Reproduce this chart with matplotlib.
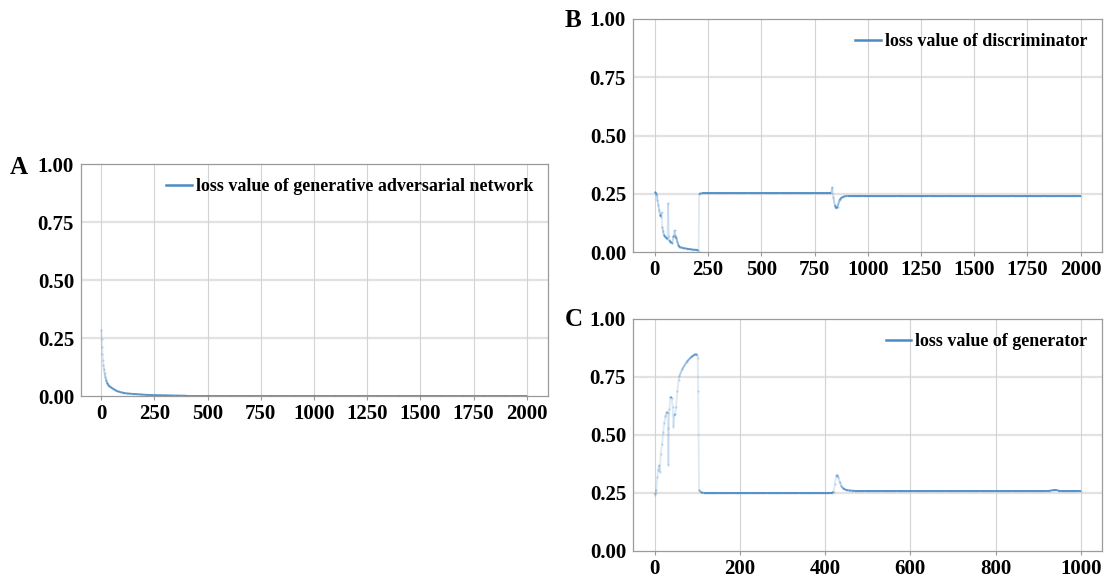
import numpy as np
import matplotlib
matplotlib.use("Agg")
import matplotlib.pyplot as plt
from matplotlib.collections import LineCollection
from matplotlib.lines import Line2D

plt.rcParams["font.family"] = ["Liberation Serif", "DejaVu Serif"]
plt.rcParams["font.weight"] = "bold"

# ---- Panel A: total GAN loss ----
epochs_a = [0, 2, 4, 6, 8, 10, 13, 16, 20, 23, 27, 32, 38, 45, 55, 65, 75, 90,
            102, 120, 148, 180, 210, 245, 300, 350, 400] + list(range(500, 2001, 100))
loss_a = [0.283, 0.245, 0.21, 0.18, 0.154, 0.135, 0.115, 0.098, 0.08, 0.068,
          0.058, 0.049, 0.042, 0.037, 0.032, 0.026, 0.021, 0.017, 0.014, 0.011,
          0.009, 0.007, 0.005, 0.004, 0.003, 0.002, 0.001] + [0.001] * 16

# ---- Panel B: discriminator loss ----
epochs_b_early = [0, 4, 8, 12, 16, 20, 24, 28, 31, 34, 38, 42, 48, 55, 59, 62, 65,
                  67, 72, 78, 82, 86, 89, 92, 95, 97, 100, 105, 110, 114, 120, 133,
                  150, 164, 180, 198, 205, 208]
loss_b_early = [0.259, 0.252, 0.245, 0.225, 0.202, 0.18, 0.159, 0.152, 0.17, 0.109,
                0.09, 0.073, 0.065, 0.06, 0.055, 0.21, 0.07, 0.05, 0.045, 0.038,
                0.04, 0.064, 0.07, 0.095, 0.073, 0.065, 0.06, 0.045, 0.03, 0.023,
                0.02, 0.017, 0.014, 0.012, 0.01, 0.009, 0.005, 0.25]
epochs_b_plateau1 = list(range(220, 830, 10))
loss_b_plateau1 = [0.252] * len(epochs_b_plateau1)
epochs_b_dip = [828, 833, 838, 845, 852, 858, 867, 875, 883, 895, 906]
loss_b_dip = [0.252, 0.278, 0.235, 0.2, 0.187, 0.195, 0.223, 0.232, 0.237, 0.240, 0.241]
epochs_b_plateau2 = list(range(920, 2001, 10))
loss_b_plateau2 = [0.241] * len(epochs_b_plateau2)

epochs_b = epochs_b_early + epochs_b_plateau1 + epochs_b_dip + epochs_b_plateau2
loss_b = loss_b_early + loss_b_plateau1 + loss_b_dip + loss_b_plateau2

# ---- Panel C: generator loss ----
epochs_c_early = [0, 2, 4, 6, 8, 10, 12, 14, 17, 20, 22, 25, 28, 30, 31, 32, 34, 37,
                  40, 42, 44, 46, 48, 50, 53, 56, 58, 65, 75, 85, 95, 100, 101, 102,
                  104, 108]
loss_c_early = [0.243, 0.25, 0.265, 0.32, 0.35, 0.37, 0.34, 0.42, 0.46, 0.515,
                0.55, 0.58, 0.60, 0.595, 0.53, 0.37, 0.61, 0.665, 0.66, 0.62,
                0.535, 0.585, 0.59, 0.62, 0.69, 0.735, 0.755, 0.785, 0.815, 0.835,
                0.848, 0.846, 0.83, 0.69, 0.264, 0.253]
epochs_c_plateau1 = list(range(115, 420, 5))
loss_c_plateau1 = [0.25] * len(epochs_c_plateau1)
epochs_c_bump = [420, 423, 426, 428, 431, 434, 438, 442, 448, 455, 462]
loss_c_bump = [0.255, 0.29, 0.322, 0.329, 0.318, 0.298, 0.28, 0.27, 0.264, 0.261, 0.26]
epochs_c_plateau2 = list(range(470, 930, 5)) + [935, 940, 945] + list(range(950, 1001, 5))
loss_c_plateau2 = ([0.259] * len(range(470, 930, 5)) + [0.262, 0.262, 0.262]
                   + [0.259] * len(range(950, 1001, 5)))

epochs_c = epochs_c_early + epochs_c_plateau1 + epochs_c_bump + epochs_c_plateau2
loss_c = loss_c_early + loss_c_plateau1 + loss_c_bump + loss_c_plateau2

y_ticks = [0.0, 0.25, 0.5, 0.75, 1.0]
x_ticks_long = [0, 250, 500, 750, 1000, 1250, 1500, 1750, 2000]
x_ticks_short = [0, 200, 400, 600, 800, 1000]

LINE_COLOR = "#4a8cc6"

fig = plt.figure(figsize=(11.16, 5.83), dpi=100)
W, H = 1116, 583


def px_axes(left, top, right, bottom):
    return fig.add_axes([left / W, 1 - bottom / H, (right - left) / W, (bottom - top) / H])


def style_axes(ax, xticks, xlim):
    ax.set_xlim(*xlim)
    ax.set_ylim(0, 1.0)
    ax.set_xticks(xticks)
    ax.set_yticks(y_ticks)
    ax.set_yticklabels([f"{v:.2f}" for v in y_ticks])
    ax.tick_params(axis="x", length=3, width=0.8, color="#999999", pad=3, labelsize=15)
    ax.tick_params(axis="y", length=0, pad=5, labelsize=15)
    for lab in ax.get_xticklabels() + ax.get_yticklabels():
        lab.set_fontweight("bold")
    for sp in ax.spines.values():
        sp.set_color("#9a9a9a")
        sp.set_linewidth(0.9)
    ax.grid(False)
    for v in y_ticks[1:-1]:
        ax.axhline(v, color="#e2e2e2", lw=1.6, zorder=0)
    for v in xticks:
        ax.axvline(v, color="#d3d3d3", lw=0.8, zorder=0)


def draw_loss(ax, x, y, label):
    """Loss curve whose opacity follows how densely the per-epoch points pile up."""
    x = np.asarray(x, dtype=float)
    y = np.asarray(y, dtype=float)
    pts = ax.transData.transform(np.column_stack([x, y]))
    seg_len = np.hypot(np.diff(pts[:, 0]), np.diff(pts[:, 1]))
    per_epoch = seg_len / np.maximum(np.diff(x), 1.0)
    alpha = np.clip(0.45 / np.maximum(per_epoch, 1e-6), 0.18, 0.92)
    segs = np.stack([np.column_stack([x[:-1], y[:-1]]),
                     np.column_stack([x[1:], y[1:]])], axis=1)
    colors = [(0.29, 0.55, 0.78, a) for a in alpha]
    lc = LineCollection(segs, colors=colors, linewidths=1.4, zorder=3)
    ax.add_collection(lc)
    ax.scatter(x, y, s=2.5, color=LINE_COLOR, alpha=0.3, linewidths=0, zorder=3)
    handle = Line2D([0], [0], color=LINE_COLOR, lw=1.8)
    ax.legend([handle], [label], loc="upper right", frameon=False,
              prop={"family": "Liberation Serif", "weight": "bold", "size": 13},
              handlelength=1.4, handletextpad=0.25, borderaxespad=0.4)


ax_a = px_axes(81, 164, 548, 396)
style_axes(ax_a, x_ticks_long, (-95, 2100))
draw_loss(ax_a, epochs_a, loss_a, "loss value of generative adversarial network")

ax_b = px_axes(633, 19, 1102, 252)
style_axes(ax_b, x_ticks_long, (-103, 2100))
draw_loss(ax_b, epochs_b, loss_b, "loss value of discriminator")

ax_c = px_axes(633, 319, 1102, 551)
style_axes(ax_c, x_ticks_short, (-51, 1050))
draw_loss(ax_c, epochs_c, loss_c, "loss value of generator")

for letter, lx, ly in [("A", 10, 156), ("B", 565, 9), ("C", 565, 308)]:
    fig.text(lx / W, 1 - ly / H, letter, fontsize=18, fontweight="bold",
             family="Liberation Serif", ha="left", va="top")

fig.savefig("out.png", dpi=100)
